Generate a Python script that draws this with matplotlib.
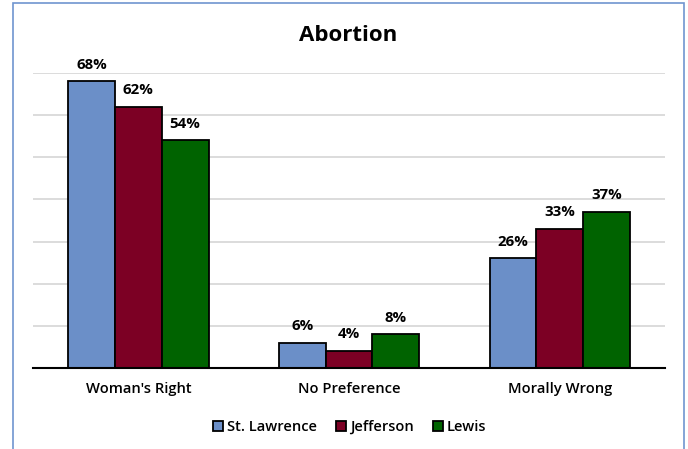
import matplotlib
matplotlib.use("Agg")
import matplotlib.pyplot as plt
from matplotlib.patches import Rectangle
import numpy as np

plt.rcParams['font.family'] = ['Open Sans', 'DejaVu Sans']

categories = ["Woman's Right", "No Preference", "Morally Wrong"]
series_names = ["St. Lawrence", "Jefferson", "Lewis"]
st_lawrence = [68, 6, 26]
jefferson = [62, 4, 33]
lewis = [54, 8, 37]
colors = ["#6b8fc8", "#7c0024", "#006300"]

fig = plt.figure(figsize=(6.88, 4.49), dpi=100)
ax = fig.add_axes([0.048, 0.1804, 0.9186, 0.657])

x = np.arange(len(categories))
width = 0.222
for i, (vals, name, col) in enumerate(zip([st_lawrence, jefferson, lewis], series_names, colors)):
    pos = x + (i - 1) * width
    bars = ax.bar(pos, vals, width, color=col, edgecolor="black", linewidth=1.3,
                  label=name, zorder=3)
    for b, v in zip(bars, vals):
        ax.annotate(f"{v}%", (b.get_x() + b.get_width() / 2, v),
                    xytext=(0, 7), textcoords="offset points",
                    ha="center", va="bottom", fontsize=10.8, fontweight="bold")

ax.set_xlim(-0.5, 2.5)
ax.set_ylim(0, 70)
ax.set_yticks(np.arange(0, 71, 10))
ax.set_yticklabels([])
ax.tick_params(axis="y", length=0)
ax.tick_params(axis="x", length=0, pad=10)
ax.set_xticks(x)
ax.set_xticklabels(categories, fontsize=10.6, fontweight="semibold")
ax.grid(axis="y", color="#d9d9d9", linewidth=1.3, zorder=0)
for s in ["top", "right", "left"]:
    ax.spines[s].set_visible(False)
ax.spines["bottom"].set_linewidth(1.5)
ax.spines["bottom"].set_zorder(4)

fig.text(0.506, 0.92, "Abortion", ha="center", va="center",
         fontsize=16, fontweight="bold")

leg = fig.legend(loc="center", bbox_to_anchor=(0.508, 0.049), ncol=3,
                 frameon=False, fontsize=10.5, handlelength=0.7, handleheight=0.7,
                 handletextpad=0.25, columnspacing=1.3)
for t in leg.get_texts():
    t.set_fontweight("semibold")

# outer chart frame
fig.patches.append(Rectangle((13 / 688, -0.02), (684 - 13) / 688, 1 - 3 / 449 + 0.02,
                             transform=fig.transFigure, fill=False,
                             edgecolor="#6f95cf", linewidth=1.2))

fig.savefig("out.png", dpi=100)
